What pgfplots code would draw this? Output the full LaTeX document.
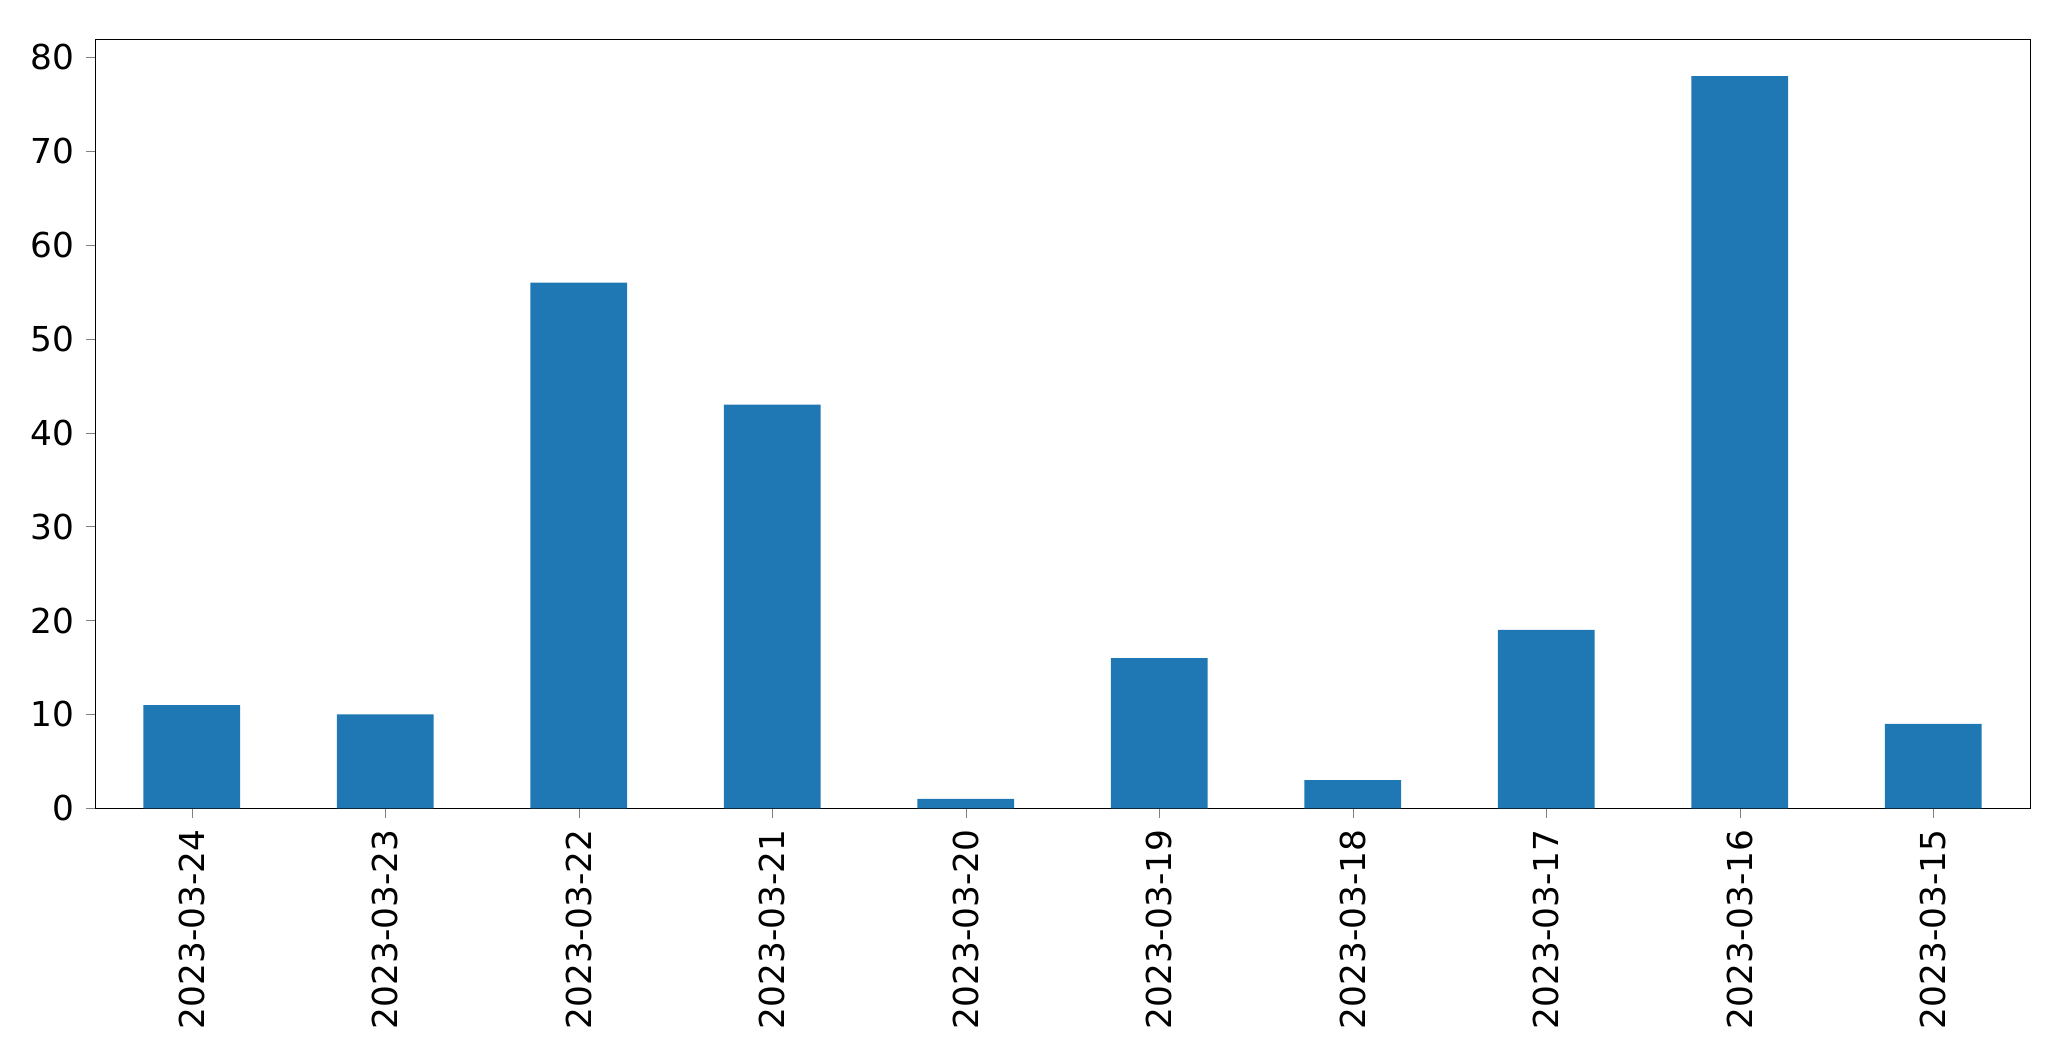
\documentclass[border=0pt]{standalone}
\usepackage{pgfplots}
\pgfplotsset{compat=1.18}
\usepackage{fontspec}
\setmainfont{DejaVu Sans}
\definecolor{barblue}{HTML}{1F77B4}
\begin{document}
\fontsize{13}{15.6}\selectfont
\begin{tikzpicture}
\begin{axis}[
    name=ax,
    width=732.5pt, height=291pt,
    scale only axis,
    xmin=-0.5, xmax=9.5,
    ymin=0, ymax=81.9,
    xtick={0,...,9},
    xticklabels={2023-03-24,2023-03-23,2023-03-22,2023-03-21,2023-03-20,2023-03-19,2023-03-18,2023-03-17,2023-03-16,2023-03-15},
    x tick label style={rotate=90, anchor=east},
    ytick={0,10,...,80},
    tick align=outside,
    tick pos=left,
    major tick length=3.5pt,
    /pgf/number format/assume math mode=true,
    tick label style={font=\fontsize{13}{15.6}\selectfont},
    ybar,
    bar width=0.5,
]
\addplot[fill=barblue, draw=none] coordinates {
(0,11) (1,10) (2,56) (3,43) (4,1) (5,16) (6,3) (7,19) (8,78) (9,9)
};
\end{axis}
\path ([shift={(-36pt,-95.5pt)}]ax.south west) rectangle ([shift={(15.5pt,15pt)}]ax.north east);
\end{tikzpicture}
\end{document}
